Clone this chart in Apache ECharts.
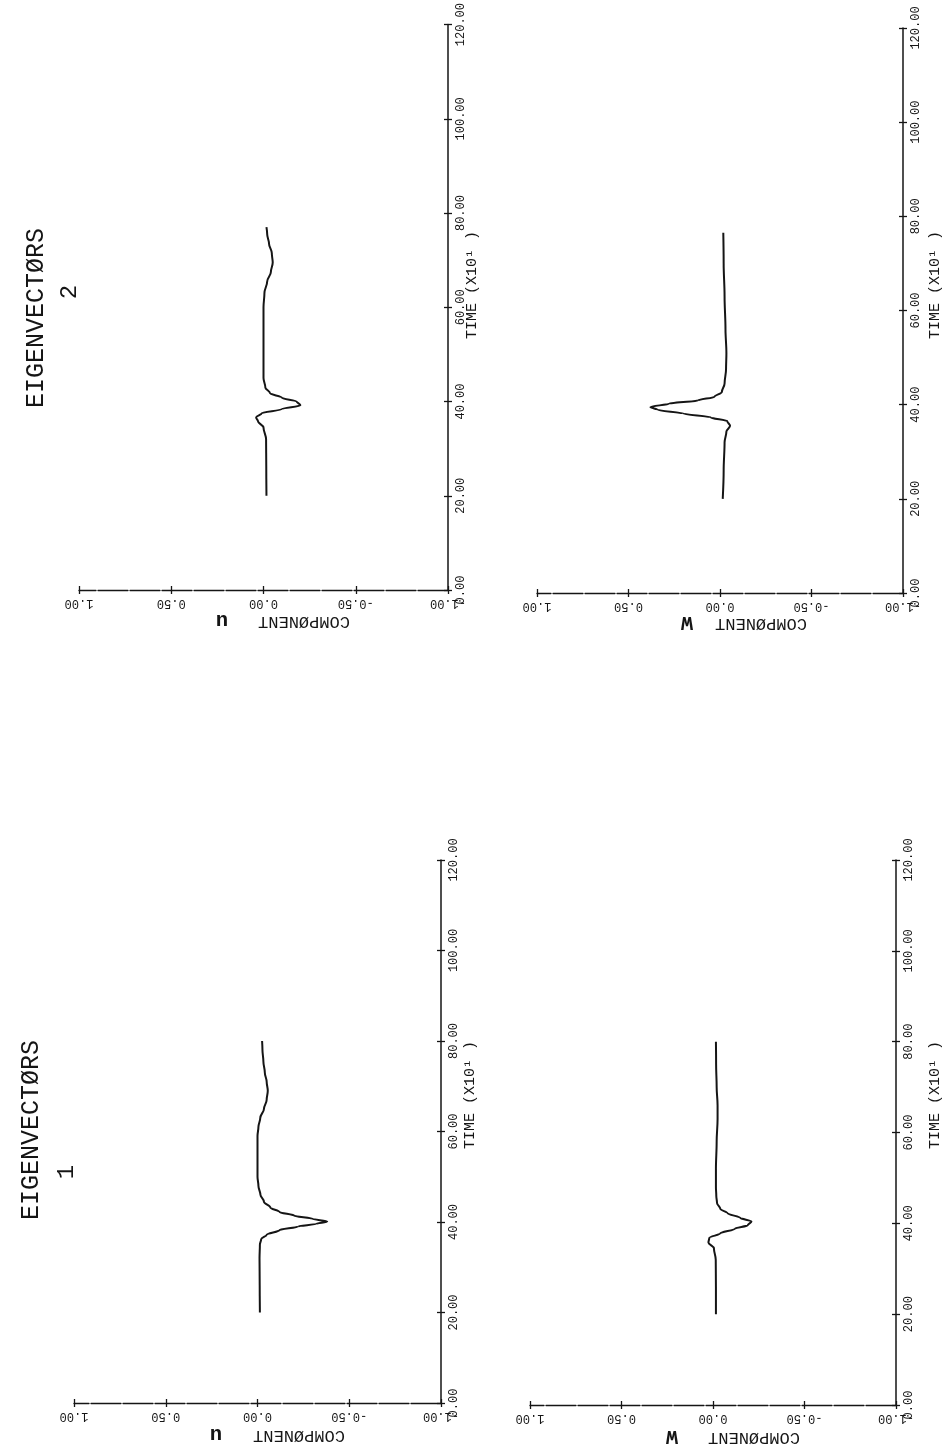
<!DOCTYPE html>
<html><head><meta charset="utf-8">
<script src="https://cdn.jsdelivr.net/npm/echarts@6/dist/echarts.min.js"></script>
<style>html,body{margin:0;padding:0;background:#fff}#c{width:945px;height:1450px}</style>
</head><body><div id="c"></div>
<script>
// ---- data (TIME in units of 10^1, COMPONENT values) ----
const timeTicks = [0, 20, 40, 60, 80, 100, 120];
const compTicks = [-1, -0.5, 0, 0.5, 1];

// Eigenvector 1, component u
const e1uTime = [20, 26, 32, 35, 36.2, 37.2, 38.2, 39.0, 39.6, 40.1, 40.7, 41.4, 42.2, 43.2, 44.5, 46, 48, 50, 55, 59, 61, 63, 65, 67, 69, 71, 73, 75.5, 78, 80];
const e1uVal  = [-0.013, -0.012, -0.011, -0.013, -0.02, -0.05, -0.12, -0.22, -0.32, -0.38, -0.3, -0.2, -0.12, -0.07, -0.035, -0.016, -0.005, 0.0, 0.0, 0.0, -0.005, -0.015, -0.035, -0.05, -0.056, -0.05, -0.04, -0.032, -0.027, -0.025];

// Eigenvector 1, component w
const e1wTime = [20, 26, 32, 34.5, 35.8, 36.8, 37.8, 38.8, 39.6, 40.4, 41.2, 42.2, 43.2, 44.5, 46, 48, 52, 58, 63, 66, 70, 75, 80];
const e1wVal  = [-0.016, -0.016, -0.015, -0.005, 0.025, 0.02, -0.04, -0.12, -0.19, -0.21, -0.15, -0.08, -0.04, -0.022, -0.018, -0.016, -0.016, -0.02, -0.025, -0.025, -0.02, -0.017, -0.016];

// Eigenvector 2, component u
const e2uTime = [20, 26, 32, 34.5, 35.8, 36.6, 37.5, 38.4, 39.2, 40.0, 40.8, 41.8, 43, 45, 50, 55, 60, 63, 65.5, 67.5, 69.5, 71.5, 73.5, 75.5, 77];
const e2uVal  = [-0.016, -0.015, -0.014, 0.0, 0.03, 0.04, 0.01, -0.1, -0.2, -0.18, -0.1, -0.035, -0.01, 0.0, 0.0, 0.0, 0.0, -0.005, -0.02, -0.04, -0.05, -0.045, -0.03, -0.02, -0.016];

// Eigenvector 2, component w
const e2wTime = [20, 26, 32, 34.3, 35.5, 36.5, 37.3, 38.1, 38.9, 39.5, 40.2, 40.9, 41.7, 42.7, 44.5, 47.5, 51, 56, 63, 70, 76.5];
const e2wVal  = [-0.015, -0.02, -0.025, -0.035, -0.055, -0.04, 0.05, 0.2, 0.34, 0.38, 0.28, 0.12, 0.03, -0.01, -0.025, -0.033, -0.035, -0.03, -0.025, -0.02, -0.018];

const panelTitles = ['EIGENVECTØRS', 'EIGENVECTØRS'];
const panelNumbers = ['1', '2'];
const timeName = 'TIME (X10¹ )';
const compName = 'COMPØNENT';
const compVars = ['u', 'W', 'u', 'W'];

// ---- layout ----
const panels = [
  {x0: 74, x1: 441, y0: 860, y1: 1403, t: e1uTime, v: e1uVal},
  {x0: 530, x1: 896, y0: 860, y1: 1405, t: e1wTime, v: e1wVal},
  {x0: 79, x1: 448, y0: 24, y1: 590, t: e2uTime, v: e2uVal},
  {x0: 537, x1: 903, y0: 28, y1: 593, t: e2wTime, v: e2wVal}
];
const INK = '#151515';
const MONO = '"Liberation Mono", "DejaVu Sans Mono", monospace';
const fmt = v => v.toFixed(2);

const grid = [], xAxis = [], yAxis = [], series = [];
panels.forEach((p, i) => {
  grid.push({left: p.x0, top: p.y0, width: p.x1 - p.x0, height: p.y1 - p.y0, containLabel: false});
  const xBase = {
    type: 'value', gridIndex: i, min: compTicks[0], max: compTicks[compTicks.length - 1], interval: 0.5,
    inverse: true, position: 'bottom', splitLine: {show: false}
  };
  xAxis.push(Object.assign({}, xBase, {
    axisLine: {show: true, onZero: false, lineStyle: {color: INK, width: 1.3, type: [30, 2]}},
    axisTick: {show: true, length: 4, lineStyle: {color: INK, width: 1.3}},
    axisLabel: {show: true, rotate: 180, margin: 7, formatter: fmt, color: INK, fontFamily: MONO, fontSize: 12}
  }));
  xAxis.push(Object.assign({}, xBase, {
    axisLine: {show: false, onZero: false},
    axisTick: {show: true, inside: true, length: 4, lineStyle: {color: INK, width: 1.3}},
    axisLabel: {show: false}
  }));
  const yBase = {
    type: 'value', gridIndex: i, min: timeTicks[0], max: timeTicks[timeTicks.length - 1], interval: 20,
    position: 'right', splitLine: {show: false}
  };
  yAxis.push(Object.assign({}, yBase, {
    axisLine: {show: true, onZero: false, lineStyle: {color: INK, width: 1.5}},
    axisTick: {show: true, length: 4, lineStyle: {color: INK, width: 1.3}},
    axisLabel: {show: true, rotate: 90, margin: 7, formatter: fmt, color: INK, fontFamily: MONO, fontSize: 12}
  }));
  yAxis.push(Object.assign({}, yBase, {
    axisLine: {show: false, onZero: false},
    axisTick: {show: true, inside: true, length: 4, lineStyle: {color: INK, width: 1.3}},
    axisLabel: {show: false}
  }));
  series.push({
    type: 'line', xAxisIndex: i * 2, yAxisIndex: i * 2,
    data: p.t.map((t, k) => [p.v[k], t]),
    showSymbol: false, smooth: 0.35, smoothMonotone: 'y',
    lineStyle: {color: INK, width: 2}, silent: true, animation: false
  });
});

function txt(x, y, text, size, rot, weight) {
  return {
    type: 'text', x: x, y: y, rotation: rot,
    style: {text: text, fill: INK, font: (weight || 'normal') + ' ' + size + 'px ' + MONO,
      align: 'center', verticalAlign: 'middle'}
  };
}
const R90 = Math.PI / 2, R180 = Math.PI;
const graphic = [
  txt(31, 1130, panelTitles[0], 25, R90),
  txt(67, 1172, panelNumbers[0], 24, R90),
  txt(36, 318, panelTitles[1], 25, R90),
  txt(70, 292, panelNumbers[1], 24, R90),
  txt(470, 1095, timeName, 15, R90),
  txt(935, 1095, timeName, 15, R90),
  txt(472, 285, timeName, 15, R90),
  txt(935, 285, timeName, 15, R90),
  txt(299, 1435, compName, 17, R180),
  txt(754, 1437, compName, 17, R180),
  txt(304, 621, compName, 17, R180),
  txt(761, 623, compName, 17, R180),
  txt(216, 1434, compVars[0], 21, R180, 'bold'),
  txt(672, 1436, compVars[1], 20, R180, 'bold'),
  txt(222, 620, compVars[2], 21, R180, 'bold'),
  txt(687, 622, compVars[3], 20, R180, 'bold')
];

const chart = echarts.init(document.getElementById('c'), null, {renderer: 'canvas'});
chart.setOption({
  backgroundColor: '#ffffff', animation: false,
  grid: grid, xAxis: xAxis, yAxis: yAxis, series: series, graphic: graphic
});
</script></body></html>
